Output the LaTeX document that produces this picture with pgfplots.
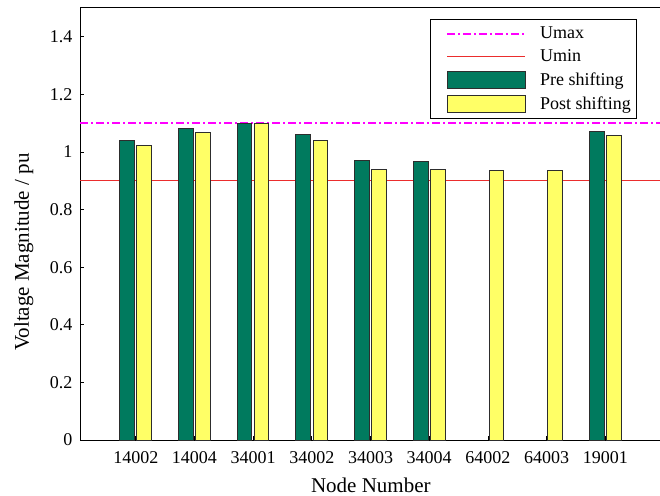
\documentclass[border=0pt]{standalone}
\usepackage{pgfplots}
\pgfplotsset{compat=1.18}
\usepackage{fontspec}
\setmainfont{Liberation Serif}
\definecolor{pregreen}{RGB}{0,122,94}
\definecolor{postyellow}{RGB}{255,255,102}
\definecolor{baredge}{RGB}{45,45,45}
\definecolor{uminred}{RGB}{235,45,45}
\definecolor{umaxmag}{RGB}{255,0,255}
\pgfplotsset{
  linelegend/.style={legend image code/.code={\path (-12bp,0bp) (90bp,0bp);\draw[##1] (0bp,0bp) -- (78bp,0bp);}},
  uminlegend/.style={legend image code/.code={\path (-12bp,0bp) (90bp,0bp);\draw[uminred, line width=1.5bp, solid] (0bp,0bp) -- (78bp,0bp);}},
  barlegend/.style={legend image code/.code={\path (-12bp,0bp) (90bp,0bp);\draw[##1] (0bp,-8.5bp) rectangle (78bp,8.5bp);}},
}
\begin{document}
\begin{tikzpicture}
\begin{axis}[
  name=ax, anchor=south west, at={(0,0)},
  scale only axis, width=584bp, height=432bp,
  xmin=0.05, xmax=10, ymin=0, ymax=1.5,
  xtick={1,2,3,4,5,6,7,8,9},
  xticklabels={14002,14004,34001,34002,34003,34004,64002,64003,19001},
  ytick={0,0.2,0.4,0.6,0.8,1,1.2,1.4},
  tick pos=left, tick align=inside,
  major tick length=4bp,
  tick style={black, line width=0.8bp},
  axis line style={black, line width=1bp},
  /pgf/number format/assume math mode=true,
  ticklabel style={font=\fontsize{18bp}{20bp}\selectfont},
  yticklabel style={xshift=-4bp},
  xticklabel style={yshift=-8bp},
  xlabel={Node Number}, ylabel={Voltage Magnitude / pu},
  label style={font=\fontsize{21bp}{24bp}\selectfont},
  xlabel style={at={(axis description cs:0.498,-0.104)}, anchor=center},
  ylabel style={at={(axis description cs:-0.096,0.435)}, anchor=center},
  legend style={at={(axis description cs:0.954,0.975)}, anchor=north east,
    draw=black, line width=0.8bp, font=\fontsize{18bp}{20bp}\selectfont,
    row sep=5.5bp, inner xsep=4bp, inner ysep=6bp},
  legend cell align=left,
]
\addplot[umaxmag, line width=1.8bp, dash pattern=on 8bp off 3bp on 2bp off 3bp, linelegend]
  coordinates {(0.05,1.1) (10,1.1)};
\addlegendentry{Umax}
\addplot[uminred, line width=1.2bp, uminlegend]
  coordinates {(0.05,0.9) (10,0.9)};
\addlegendentry{Umin}
\addplot[ybar, bar width=0.25, bar shift=-0.145, fill=pregreen, draw=baredge, line width=1bp, barlegend]
  coordinates {(1,1.039) (2,1.080) (3,1.100) (4,1.060) (5,0.969) (6,0.968) (9,1.070)};
\addlegendentry{Pre shifting}
\addplot[ybar, bar width=0.25, bar shift=0.145, fill=postyellow, draw=baredge, line width=1bp, barlegend]
  coordinates {(1,1.022) (2,1.066) (3,1.098) (4,1.039) (5,0.940) (6,0.940) (7,0.937) (8,0.937) (9,1.056)};
\addlegendentry{Post shifting}
\end{axis}
\pgfresetboundingbox
\path[use as bounding box] (-80bp,-56bp) rectangle (580bp,440bp);
\end{tikzpicture}
\end{document}
